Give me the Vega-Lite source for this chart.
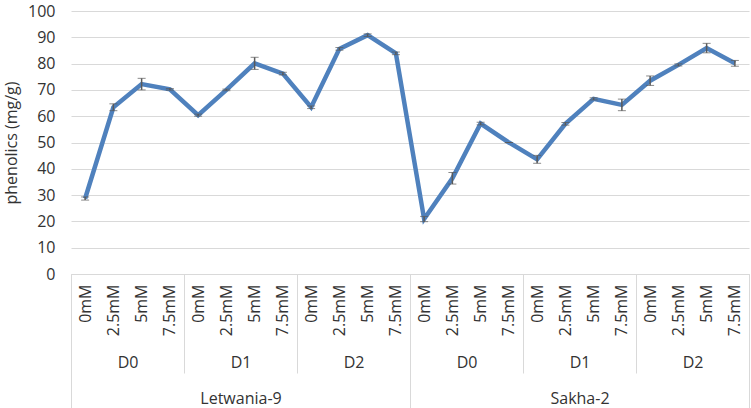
{
  "$schema": "https://vega.github.io/schema/vega-lite/v6.json",
  "width": 678,
  "height": 263,
  "autosize": "none",
  "padding": {"left": 71, "top": 11, "right": 2, "bottom": 134},
  "background": "white",
  "config": {
    "view": {"stroke": null},
    "font": "Open Sans",
    "axis": {"labelFont": "Open Sans", "titleFont": "Open Sans", "labelColor": "#333333", "titleColor": "#333333", "labelFontSize": 16, "titleFontSize": 16, "titleFontWeight": "normal"}
  },
  "data": {
    "values": [
      {"variety": "Letwania-9", "dose": "D0", "conc": "0mM", "grp": "Letwania-9|D0", "key": "Letwania-9|D0|0mM", "mean": 28.7, "err": 0.6},
      {"variety": "Letwania-9", "dose": "D0", "conc": "2.5mM", "grp": "Letwania-9|D0", "key": "Letwania-9|D0|2.5mM", "mean": 63.4, "err": 1.3},
      {"variety": "Letwania-9", "dose": "D0", "conc": "5mM", "grp": "Letwania-9|D0", "key": "Letwania-9|D0|5mM", "mean": 72.2, "err": 2.2},
      {"variety": "Letwania-9", "dose": "D0", "conc": "7.5mM", "grp": "Letwania-9|D0", "key": "Letwania-9|D0|7.5mM", "mean": 70.2, "err": 0.3},
      {"variety": "Letwania-9", "dose": "D1", "conc": "0mM", "grp": "Letwania-9|D1", "key": "Letwania-9|D1|0mM", "mean": 60.4, "err": 0.4},
      {"variety": "Letwania-9", "dose": "D1", "conc": "2.5mM", "grp": "Letwania-9|D1", "key": "Letwania-9|D1|2.5mM", "mean": 70.0, "err": 0.3},
      {"variety": "Letwania-9", "dose": "D1", "conc": "5mM", "grp": "Letwania-9|D1", "key": "Letwania-9|D1|5mM", "mean": 80.1, "err": 2.3},
      {"variety": "Letwania-9", "dose": "D1", "conc": "7.5mM", "grp": "Letwania-9|D1", "key": "Letwania-9|D1|7.5mM", "mean": 76.2, "err": 0.5},
      {"variety": "Letwania-9", "dose": "D2", "conc": "0mM", "grp": "Letwania-9|D2", "key": "Letwania-9|D2|0mM", "mean": 63.4, "err": 0.5},
      {"variety": "Letwania-9", "dose": "D2", "conc": "2.5mM", "grp": "Letwania-9|D2", "key": "Letwania-9|D2|2.5mM", "mean": 85.6, "err": 0.5},
      {"variety": "Letwania-9", "dose": "D2", "conc": "5mM", "grp": "Letwania-9|D2", "key": "Letwania-9|D2|5mM", "mean": 90.8, "err": 0.5},
      {"variety": "Letwania-9", "dose": "D2", "conc": "7.5mM", "grp": "Letwania-9|D2", "key": "Letwania-9|D2|7.5mM", "mean": 83.9, "err": 0.5},
      {"variety": "Sakha-2", "dose": "D0", "conc": "0mM", "grp": "Sakha-2|D0", "key": "Sakha-2|D0|0mM", "mean": 20.9, "err": 1.0},
      {"variety": "Sakha-2", "dose": "D0", "conc": "2.5mM", "grp": "Sakha-2|D0", "key": "Sakha-2|D0|2.5mM", "mean": 36.4, "err": 2.2},
      {"variety": "Sakha-2", "dose": "D0", "conc": "5mM", "grp": "Sakha-2|D0", "key": "Sakha-2|D0|5mM", "mean": 57.2, "err": 0.5},
      {"variety": "Sakha-2", "dose": "D0", "conc": "7.5mM", "grp": "Sakha-2|D0", "key": "Sakha-2|D0|7.5mM", "mean": 50.0, "err": 0},
      {"variety": "Sakha-2", "dose": "D1", "conc": "0mM", "grp": "Sakha-2|D1", "key": "Sakha-2|D1|0mM", "mean": 43.6, "err": 1.5},
      {"variety": "Sakha-2", "dose": "D1", "conc": "2.5mM", "grp": "Sakha-2|D1", "key": "Sakha-2|D1|2.5mM", "mean": 57.1, "err": 0.5},
      {"variety": "Sakha-2", "dose": "D1", "conc": "5mM", "grp": "Sakha-2|D1", "key": "Sakha-2|D1|5mM", "mean": 66.6, "err": 0.4},
      {"variety": "Sakha-2", "dose": "D1", "conc": "7.5mM", "grp": "Sakha-2|D1", "key": "Sakha-2|D1|7.5mM", "mean": 64.3, "err": 2.2},
      {"variety": "Sakha-2", "dose": "D2", "conc": "0mM", "grp": "Sakha-2|D2", "key": "Sakha-2|D2|0mM", "mean": 73.5, "err": 1.8},
      {"variety": "Sakha-2", "dose": "D2", "conc": "2.5mM", "grp": "Sakha-2|D2", "key": "Sakha-2|D2|2.5mM", "mean": 79.5, "err": 0.4},
      {"variety": "Sakha-2", "dose": "D2", "conc": "5mM", "grp": "Sakha-2|D2", "key": "Sakha-2|D2|5mM", "mean": 85.9, "err": 1.8},
      {"variety": "Sakha-2", "dose": "D2", "conc": "7.5mM", "grp": "Sakha-2|D2", "key": "Sakha-2|D2|7.5mM", "mean": 80.1, "err": 1.1}
    ]
  },
  "layer": [
    {
      "encoding": {
        "x": {
          "field": "key", "type": "ordinal", "sort": null,
          "scale": {"type": "point", "padding": 0.5},
          "axis": {"orient": "bottom", "title": null, "labelExpr": "split(datum.label,'|')[2]", "labelAngle": 270, "labelPadding": 10, "ticks": false, "domain": true, "domainColor": "#d9d9d9", "domainWidth": 1, "grid": false}
        },
        "y": {
          "field": "mean", "type": "quantitative",
          "scale": {"domain": [0, 100], "nice": false, "zero": true},
          "axis": {"title": "phenolics (mg/g)", "values": [0, 10, 20, 30, 40, 50, 60, 70, 80, 90, 100], "domain": false, "ticks": false, "labelPadding": 16, "titlePadding": 8, "grid": true, "gridColor": "#d9d9d9", "gridWidth": 1}
        }
      },
      "layer": [
        {"mark": {"type": "line", "color": "#4f81bd", "strokeWidth": 4.5, "strokeJoin": "miter", "strokeCap": "butt"}},
        {
          "mark": {"type": "errorbar", "ticks": {"size": 8, "color": "#595959", "strokeWidth": 1.5}, "rule": {"color": "#595959", "strokeWidth": 1.5}},
          "encoding": {"yError": {"field": "err"}}
        }
      ]
    },
    {
      "mark": {"type": "rule", "opacity": 0},
      "encoding": {
        "x": {
          "field": "grp", "type": "nominal", "sort": null,
          "scale": {"type": "band", "paddingInner": 0, "paddingOuter": 0},
          "axis": {"orient": "bottom", "title": null, "labelExpr": "split(datum.label,'|')[1]", "labelAngle": 0, "domain": false, "ticks": true, "tickBand": "extent", "tickSize": 99, "tickColor": "#d9d9d9", "tickWidth": 1, "labelBaseline": "middle", "labelPadding": -11, "grid": false}
        }
      }
    },
    {
      "mark": {"type": "rule", "opacity": 0},
      "encoding": {
        "x": {
          "field": "variety", "type": "nominal", "sort": null,
          "scale": {"type": "band", "paddingInner": 0, "paddingOuter": 0},
          "axis": {"orient": "bottom", "title": null, "labelAngle": 0, "domain": false, "ticks": true, "tickBand": "extent", "tickSize": 134, "tickColor": "#d9d9d9", "tickWidth": 1, "labelBaseline": "middle", "labelPadding": -10, "grid": false}
        }
      }
    }
  ],
  "resolve": {"scale": {"x": "independent"}}
}
